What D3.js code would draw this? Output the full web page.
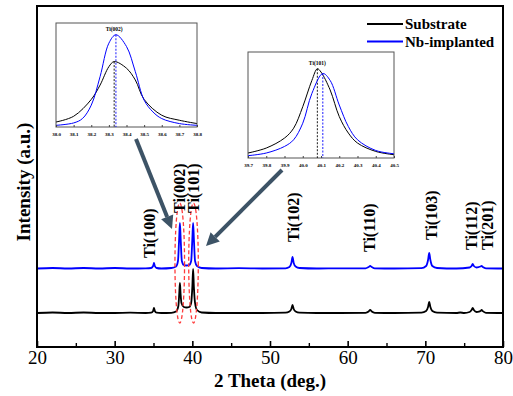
<!DOCTYPE html>
<html><head><meta charset="utf-8">
<script src="https://cdn.jsdelivr.net/npm/d3@7"></script>
<style>body{margin:0;background:#fff}svg{display:block}</style>
</head><body>
<svg id="c" width="513" height="396"></svg>
<script>
// ---- data ----
const xTicks = [20, 30, 40, 50, 60, 70, 80];
const xMinorTicks = [25, 35, 45, 55, 65, 75];
const seriesNames = ["Substrate", "Nb-implanted"];
const substrate = [[20,34],[22,34.5],[24,34],[26,34.5],[28,34],[30,34],[32,34.3],[34,34],[34.7,34.3],[34.95,36],[35.06,39],[35.17,36],[35.4,34.3],[36,34],[37.3,34.2],[37.9,35.5],[38.2,41],[38.32,54],[38.4,64],[38.48,54],[38.6,44],[38.9,40],[39.25,39.5],[39.6,40],[39.85,44],[40.0,60],[40.1,78],[40.2,60],[40.35,44],[40.6,37],[41.2,34.5],[43,34],[46,34],[49,34],[52,34.3],[52.5,35.5],[52.75,38],[52.9,42],[53.05,38],[53.3,35.5],[53.8,34.3],[56,34],[59,34],[62.3,34.2],[62.7,35.5],[62.9,37],[63.1,35.5],[63.5,34.2],[66,34],[69.5,34.3],[70.1,36],[70.35,40],[70.5,45],[70.65,40],[70.9,36],[71.5,34.3],[74,34],[74.5,34.5],[75,34],[75.7,35],[75.95,37],[76.1,39],[76.25,37],[76.6,35],[76.9,35.3],[77.1,36],[77.25,37],[77.4,35.8],[77.8,34.2],[80,34]];
const implanted = [[20,78.5],[22,79],[24,78.5],[26,79],[28,78.5],[30,79],[32,78.5],[34,78.7],[34.7,79],[34.95,81],[35.06,84],[35.17,81],[35.4,79],[36,78.5],[37.3,79],[37.9,80.5],[38.15,86],[38.3,108],[38.4,124],[38.5,108],[38.65,86],[38.9,82],[39.25,81.5],[39.6,82],[39.85,86],[40.0,108],[40.1,124],[40.2,108],[40.35,86],[40.6,81],[41.2,79],[43,78.5],[46,78.8],[49,78.5],[52,78.7],[52.5,80],[52.75,84],[52.9,90],[53.05,84],[53.3,80.5],[53.8,79],[56,78.5],[59,78.7],[62.3,78.7],[62.7,80],[62.9,81],[63.1,80],[63.5,78.7],[66,78.5],[69.5,78.8],[70.1,81],[70.35,87],[70.5,94],[70.65,87],[70.9,81],[71.5,79],[74,78.5],[75.7,79.5],[75.95,81],[76.1,83],[76.25,81],[76.6,79.5],[76.9,80],[77.1,80.5],[77.25,81],[77.4,80],[77.8,78.7],[80,78.5]];
const peakLabels = ["Ti(100)", "Ti(002)", "Ti(101)", "Ti(102)", "Ti(110)", "Ti(103)", "Ti(112)", "Ti(201)"];
const peakLabelTheta = [34.5, 38.3, 40.1, 53.0, 62.8, 70.8, 75.9, 78.05];
const peakLabelLevel = [89, 134, 134, 105, 95, 107, 97, 97];
// inset 1: Ti(002)
const inset1Title = "Ti(002)";
const inset1Ticks = [38.0, 38.1, 38.2, 38.3, 38.4, 38.5, 38.6, 38.7, 38.8];
const inset1Substrate = [[38.0,4.8],[38.1,10.3],[38.2,26.5],[38.25,40.3],[38.3,58],[38.33,62.9],[38.4,56.5],[38.45,45.2],[38.5,26.5],[38.6,11.3],[38.7,6.5],[38.8,3.3]];
const inset1Implanted = [[38.0,1.6],[38.1,3.9],[38.15,8.1],[38.2,21],[38.25,48.4],[38.3,80.6],[38.34,88.7],[38.4,77.4],[38.45,53.2],[38.5,25.8],[38.55,14.5],[38.6,8.1],[38.7,3.3],[38.8,1.6]];
const inset1Centers = [38.33, 38.34];
// inset 2: Ti(101)
const inset2Title = "Ti(101)";
const inset2Ticks = [39.7, 39.8, 39.9, 40.0, 40.1, 40.2, 40.3, 40.4, 40.5];
const inset2Substrate = [[39.7,4.7],[39.8,9.4],[39.9,18.8],[39.95,28.1],[40.0,48.4],[40.05,73.2],[40.08,84.2],[40.1,81.1],[40.15,64.2],[40.2,39.1],[40.25,23.5],[40.3,14.1],[40.4,6.2],[40.5,3.1]];
const inset2Implanted = [[39.7,2.2],[39.8,4.7],[39.9,10.9],[39.95,17.2],[40.0,32.8],[40.05,60.9],[40.11,79.7],[40.15,73.2],[40.2,50],[40.25,29.6],[40.3,17.2],[40.4,7.1],[40.5,4]];
const inset2Centers = [40.08, 40.11];

// ---- drawing ----
const svg = d3.select("#c");
const colors = ["#000000", "#0000ff"];
const serif = "'Liberation Serif','Times New Roman',serif";
const x = d3.scaleLinear().domain([20, 80]).range([37, 503]);
const y = d3.scaleLinear().domain([0, 341]).range([347, 6]);

// data lines
const line = d3.line().x(d => x(d[0])).y(d => y(d[1])).curve(d3.curveMonotoneX);
[substrate, implanted].forEach((s, i) => {
  svg.append("path").attr("d", line(s)).attr("fill", "none")
    .attr("stroke", colors[i]).attr("stroke-width", 1.8).attr("stroke-linejoin", "round");
});

// red dashed ellipses
[38.38, 40.15].forEach(t => {
  svg.append("ellipse").attr("cx", x(t)).attr("cy", 263).attr("rx", 4.8).attr("ry", 60)
    .attr("fill", "none").attr("stroke", "#ff3b3b").attr("stroke-width", 1.3).attr("stroke-dasharray", "4,2.5");
});

// frame
svg.append("rect").attr("x", 37).attr("y", 6).attr("width", 466).attr("height", 341)
  .attr("fill", "none").attr("stroke", "#000").attr("stroke-width", 2);

// x axis
const ax = svg.append("g").attr("transform", "translate(0,347)")
  .call(d3.axisBottom(x).tickValues(xTicks).tickSize(-6).tickPadding(3).tickFormat(d3.format("d")));
ax.select(".domain").remove();
ax.selectAll(".tick line").attr("stroke-width", 1.6);
ax.selectAll("text").attr("font-family", serif).attr("font-size", 19).attr("fill", "#000");
const axm = svg.append("g").attr("transform", "translate(0,347)")
  .call(d3.axisBottom(x).tickValues(xMinorTicks).tickSize(-4).tickFormat(""));
axm.select(".domain").remove();
axm.selectAll(".tick line").attr("stroke-width", 1.4);

svg.append("text").attr("x", 270).attr("y", 387).attr("text-anchor", "middle")
  .attr("font-family", serif).attr("font-weight", "bold").attr("font-size", 19).text("2 Theta (deg.)");
svg.append("text").attr("transform", "translate(23,182) rotate(-90)").attr("text-anchor", "middle")
  .attr("dominant-baseline", "central")
  .attr("font-family", serif).attr("font-weight", "bold").attr("font-size", 19).text("Intensity (a.u.)");

// peak labels
peakLabels.forEach((t, i) => {
  svg.append("text")
    .attr("transform", `translate(${x(peakLabelTheta[i]) + 5.5},${y(peakLabelLevel[i])}) rotate(-90)`)
    .attr("font-family", serif).attr("font-weight", "bold").attr("font-size", 16).text(t);
});

// legend
seriesNames.forEach((n, i) => {
  const yy = 24 + i * 17.5;
  svg.append("line").attr("x1", 367).attr("x2", 403).attr("y1", yy).attr("y2", yy)
    .attr("stroke", colors[i]).attr("stroke-width", 2);
  svg.append("text").attr("x", 405).attr("y", yy).attr("dominant-baseline", "central")
    .attr("font-family", serif).attr("font-weight", "bold").attr("font-size", 15).text(n);
});

// arrows
function arrow(x1, y1, x2, y2) {
  const c = "#3d5366", L = 13, W = 6.5;
  const a = Math.atan2(y2 - y1, x2 - x1);
  const bx = x2 - L * Math.cos(a), by = y2 - L * Math.sin(a);
  svg.append("line").attr("x1", x1).attr("y1", y1).attr("x2", bx).attr("y2", by)
    .attr("stroke", c).attr("stroke-width", 4);
  const px = -Math.sin(a) * W, py = Math.cos(a) * W;
  svg.append("polygon").attr("points", `${x2},${y2} ${bx + px},${by + py} ${bx - px},${by - py}`).attr("fill", c);
}
arrow(136, 139, 172, 229);
arrow(282, 170, 206, 246);

// insets
function inset(x0, x1p, y0, y1p, dom, ticks, title, titleY, subs, impl, centers) {
  const g = svg.append("g");
  const sx = d3.scaleLinear().domain(dom).range([x0, x1p]);
  const sy = d3.scaleLinear().domain([0, 100]).range([y1p, y0]);
  g.append("rect").attr("x", x0).attr("y", y0).attr("width", x1p - x0).attr("height", y1p - y0)
    .attr("fill", "#fff").attr("stroke", "#555").attr("stroke-width", 1);
  const l = d3.line().x(d => sx(d[0])).y(d => sy(d[1])).curve(d3.curveCatmullRom);
  [subs, impl].forEach((s, i) => {
    g.append("path").attr("d", l(s)).attr("fill", "none").attr("stroke", colors[i]).attr("stroke-width", 1);
    const pk = d3.max(s, d => d[1]);
    g.append("line").attr("x1", sx(centers[i])).attr("x2", sx(centers[i]))
      .attr("y1", sy(pk)).attr("y2", y1p).attr("stroke", colors[i]).attr("stroke-width", 0.9)
      .attr("stroke-dasharray", "2,1.5");
  });
  const a = g.append("g").attr("transform", `translate(0,${y1p})`)
    .call(d3.axisBottom(sx).tickValues(ticks).tickSize(-2).tickPadding(5).tickFormat(d3.format(".1f")));
  a.select(".domain").remove();
  a.selectAll(".tick line").attr("stroke", "#444");
  a.selectAll("text").attr("font-family", serif).attr("font-weight", "bold").attr("font-size", 5).attr("fill", "#000");
  g.append("text").attr("x", sx(centers[0])).attr("y", titleY).attr("text-anchor", "middle")
    .attr("font-family", serif).attr("font-weight", "bold").attr("font-size", 5.5).text(title);
}
inset(56, 197, 23, 127, [38.0, 38.8], inset1Ticks, inset1Title, 31, inset1Substrate, inset1Implanted, inset1Centers);
inset(248, 394, 52, 158, [39.7, 40.5], inset2Ticks, inset2Title, 65, inset2Substrate, inset2Implanted, inset2Centers);
</script>
</body></html>
